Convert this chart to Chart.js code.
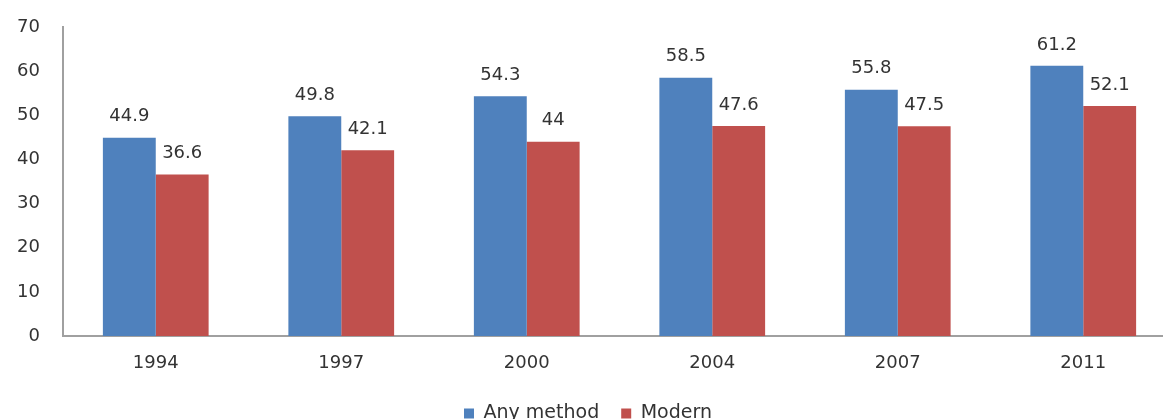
<!DOCTYPE html>
<html>
<head>
<meta charset="utf-8">
<script src="https://cdn.jsdelivr.net/npm/chart.js@4"></script>
<style>
html,body{margin:0;padding:0;background:#fff;overflow:hidden;width:1163px;height:419px;}
#wrap{position:relative;width:1180px;height:433px;}
</style>
</head>
<body>
<div id="wrap"><canvas id="c"></canvas></div>
<script>
const categories = ['1994', '1997', '2000', '2004', '2007', '2011'];
const anyMethod = [44.9, 49.8, 54.3, 58.5, 55.8, 61.2];
const modern = [36.6, 42.1, 44, 47.6, 47.5, 52.1];
const yTicks = [0, 10, 20, 30, 40, 50, 60, 70];

const FONT = 'DejaVu Sans';
const TEXT = '#333333';

const labelPlugin = {
  id: 'barLabels',
  afterDatasetsDraw(chart) {
    const ctx = chart.ctx;
    ctx.save();
    ctx.font = '18px "' + FONT + '"';
    ctx.fillStyle = TEXT;
    ctx.textAlign = 'center';
    ctx.textBaseline = 'middle';
    chart.data.datasets.forEach((ds, i) => {
      chart.getDatasetMeta(i).data.forEach((bar, j) => {
        ctx.fillText(String(ds.data[j]), bar.x, bar.y - 21);
      });
    });
    ctx.restore();
  }
};

new Chart(document.getElementById('c'), {
  type: 'bar',
  data: {
    labels: categories,
    datasets: [
      { label: 'Any method', data: anyMethod, backgroundColor: '#4F81BD' },
      { label: 'Modern', data: modern, backgroundColor: '#C0504D' }
    ]
  },
  options: {
    responsive: true,
    maintainAspectRatio: false,
    animation: false,
    layout: { padding: { top: 27, right: 4, left: 0, bottom: 0 } },
    datasets: { bar: { categoryPercentage: 0.57, barPercentage: 1.0 } },
    plugins: {
      tooltip: { enabled: false },
      legend: {
        position: 'bottom',
        labels: {
          font: { family: FONT, size: 19 },
          color: TEXT,
          boxWidth: 10,
          boxHeight: 10,
          padding: 22
        }
      }
    },
    scales: {
      x: {
        grid: { display: false, drawTicks: false },
        border: { display: true, color: '#a0a0a0', width: 2 },
        ticks: { font: { family: FONT, size: 18 }, color: TEXT, padding: 17 },
        afterFit: (a) => { a.height = 46; }
      },
      y: {
        min: 0, max: 70,
        afterBuildTicks: (a) => { a.ticks = yTicks.map(v => ({ value: v })); },
        grid: { display: false, drawTicks: false },
        border: { display: true, color: '#a0a0a0', width: 2 },
        ticks: { font: { family: FONT, size: 18 }, color: TEXT, padding: 23 },
        afterFit: (a) => { a.width = 63; a.paddingTop = 0; a.paddingBottom = 0; }
      }
    }
  },
  plugins: [labelPlugin]
});
</script>
</body>
</html>
